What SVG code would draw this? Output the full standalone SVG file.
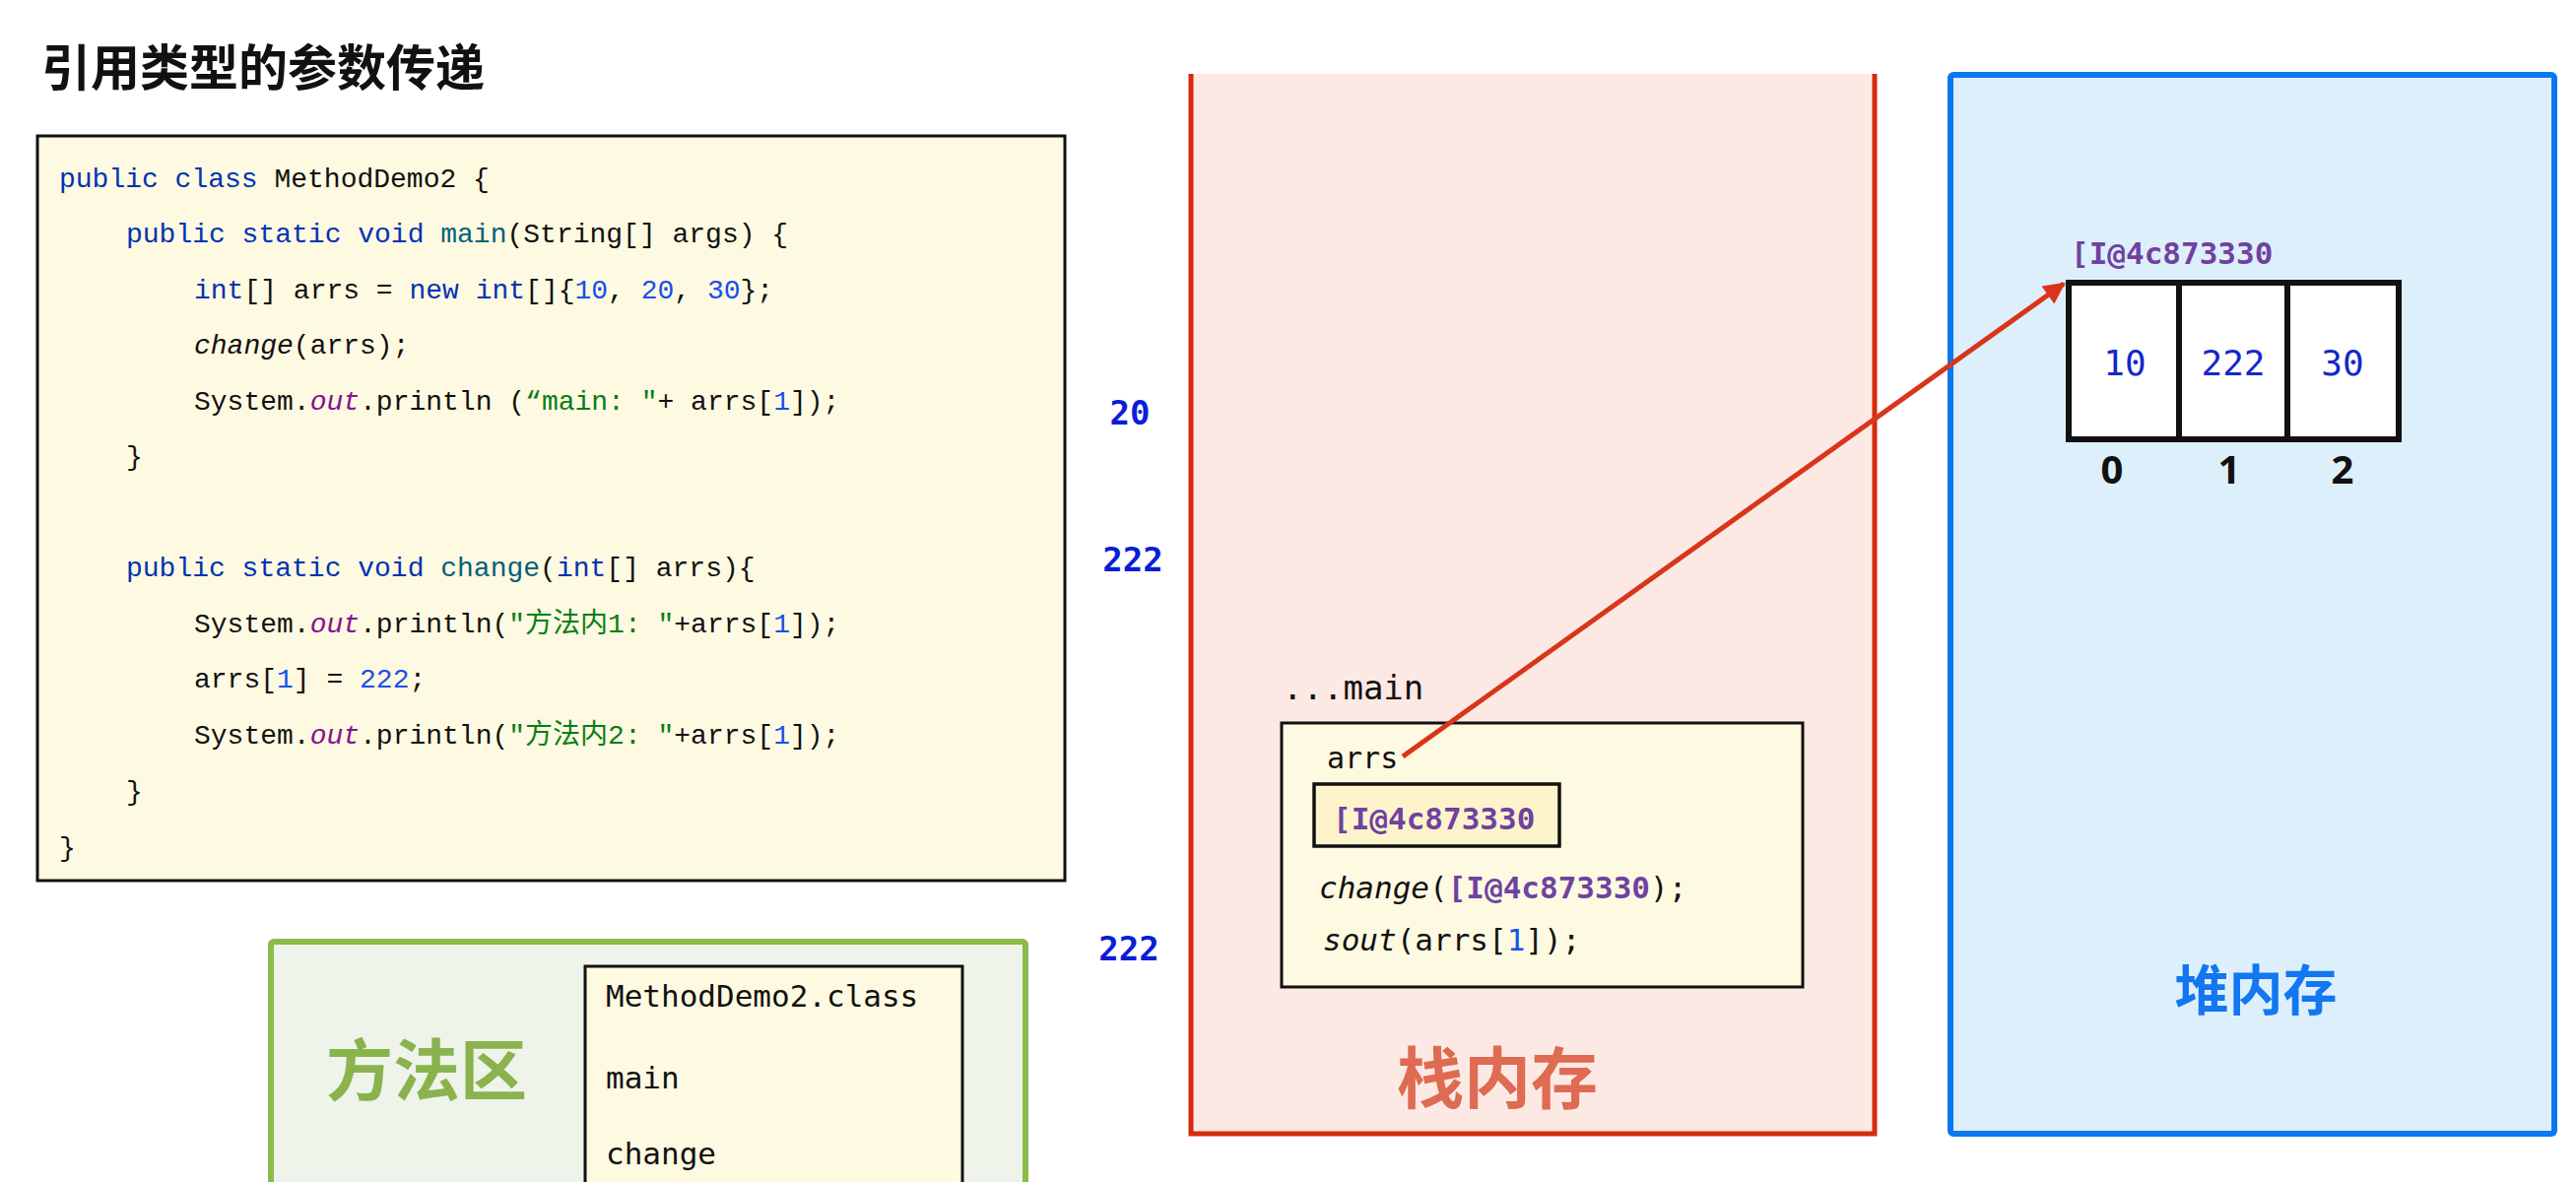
<svg xmlns="http://www.w3.org/2000/svg" width="2615" height="1200" viewBox="0 0 2615 1200">
<style>
.code{font-family:"Liberation Mono","Noto Sans CJK SC",monospace;font-size:28px;fill:#111}
.kw{fill:#0033B3}
.fn{fill:#00627A}
.num{fill:#1750EB}
.fld{fill:#871094;font-style:italic}
.str{fill:#067D17}
.it{font-style:italic}
.mono{font-family:"DejaVu Sans Mono","Liberation Mono",monospace;fill:#111}
.addr{fill:#6F42A0;font-weight:bold}
.val{font-family:"DejaVu Sans Mono","Liberation Mono",monospace;font-size:36px;fill:#1428C8;text-anchor:middle}
.idx{font-family:"Noto Sans",sans-serif;font-weight:bold;font-size:40px;fill:#111;text-anchor:middle}
.lbl{font-family:"DejaVu Sans Mono","Liberation Mono",monospace;font-weight:bold;font-size:34px;fill:#0A1ED6;text-anchor:middle}
.cjk{font-family:"Noto Sans CJK SC","Noto Sans",sans-serif;font-weight:bold;text-anchor:middle}
.box{stroke:#111;stroke-width:3}
</style>
<defs>
<marker id="ah" viewBox="0 0 10 10" refX="9" refY="5" markerWidth="28" markerHeight="22" markerUnits="userSpaceOnUse" orient="auto"><path d="M0,0 L10,5 L0,10 z" fill="#D8351A"/></marker>
</defs>
<rect width="2615" height="1200" fill="#ffffff"/>
<g id="title"><text x="42" y="87" font-family="Noto Sans CJK SC, sans-serif" font-weight="bold" font-size="50" fill="#111">引用类型的参数传递</text></g>
<g id="code">
<rect x="38" y="138" width="1043" height="756" fill="#FEF9E1" class="box"/>
<text class="code" x="60" y="190" xml:space="preserve"><tspan class="kw">public class</tspan> MethodDemo2 {</text>
<text class="code" x="128" y="246" xml:space="preserve"><tspan class="kw">public static void</tspan> <tspan class="fn">main</tspan>(String[] args) {</text>
<text class="code" x="197" y="303" xml:space="preserve"><tspan class="kw">int</tspan>[] arrs = <tspan class="kw">new int</tspan>[]{<tspan class="num">10</tspan>, <tspan class="num">20</tspan>, <tspan class="num">30</tspan>};</text>
<text class="code" x="197" y="359" xml:space="preserve"><tspan class="it">change</tspan>(arrs);</text>
<text class="code" x="197" y="416" xml:space="preserve">System.<tspan class="fld">out</tspan>.println (<tspan class="str">“main: "</tspan>+ arrs[<tspan class="num">1</tspan>]);</text>
<text class="code" x="128" y="472">}</text>
<text class="code" x="128" y="585" xml:space="preserve"><tspan class="kw">public static void</tspan> <tspan class="fn">change</tspan>(<tspan class="kw">int</tspan>[] arrs){</text>
<text class="code" x="197" y="642" xml:space="preserve">System.<tspan class="fld">out</tspan>.println(<tspan class="str">"方法内1: "</tspan>+arrs[<tspan class="num">1</tspan>]);</text>
<text class="code" x="197" y="698" xml:space="preserve">arrs[<tspan class="num">1</tspan>] = <tspan class="num">222</tspan>;</text>
<text class="code" x="197" y="755" xml:space="preserve">System.<tspan class="fld">out</tspan>.println(<tspan class="str">"方法内2: "</tspan>+arrs[<tspan class="num">1</tspan>]);</text>
<text class="code" x="128" y="812">}</text>
<text class="code" x="60" y="869">}</text>
</g>
<g id="method-area">
<rect x="275" y="956" width="766" height="300" fill="#EEF4E9" stroke="#8CBB4A" stroke-width="6" rx="3"/>
<text class="cjk" x="433" y="1112" font-size="68" fill="#8AB34E">方法区</text>
<rect x="594" y="981" width="383" height="260" fill="#FEF9E1" class="box"/>
<text class="mono" x="615" y="1022" font-size="31">MethodDemo2.class</text>
<text class="mono" x="615" y="1105" font-size="31">main</text>
<text class="mono" x="615" y="1182" font-size="31">change</text>
</g>
<g id="outputs">
<text class="lbl" x="1147" y="431">20</text>
<text class="lbl" x="1150" y="580">222</text>
<text class="lbl" x="1146" y="975">222</text>
</g>
<g id="stack">
<rect x="1209" y="75" width="694" height="1076" fill="#FDE9E4"/>
<path d="M1209,75 V1151 H1903 V75" fill="none" stroke="#D62B0C" stroke-width="5"/>
<text class="cjk" x="1520" y="1120" font-size="68" fill="#DE6B52">栈内存</text>
</g>
<g id="main-frame">
<text class="mono" x="1302" y="710" font-size="34">...main</text>
<rect x="1301" y="734" width="529" height="268" fill="#FEF9E1" class="box"/>
<text class="mono" x="1347" y="780" font-size="30">arrs</text>
<rect x="1334" y="796" width="249" height="63" fill="#FEF4CC" stroke="#111" stroke-width="3.5"/>
<text class="mono addr" x="1353" y="842" font-size="31">[I@4c873330</text>
<text class="mono" x="1339" y="912" font-size="31" xml:space="preserve"><tspan font-style="italic">change</tspan>(<tspan class="addr">[I@4c873330</tspan>);</text>
<text class="mono" x="1343" y="965" font-size="31" xml:space="preserve"><tspan font-style="italic">sout</tspan>(arrs[<tspan class="num">1</tspan>]);</text>
</g>
<g id="heap">
<rect x="1980" y="76" width="613" height="1075" fill="#DEEFFC" stroke="#0A78F0" stroke-width="6" rx="3"/>
<text class="cjk" x="2290" y="1025" font-size="55" fill="#1277F0">堆内存</text>
</g>
<g id="array">
<text class="mono addr" x="2102" y="268" font-size="31">[I@4c873330</text>
<rect x="2100" y="287" width="335" height="159" fill="#ffffff" stroke="#111" stroke-width="6"/>
<path d="M2212,287 V446 M2322,287 V446" stroke="#111" stroke-width="6"/>
<text class="val" x="2157" y="381">10</text>
<text class="val" x="2267" y="381">222</text>
<text class="val" x="2378" y="381">30</text>
<text class="idx" x="2144" y="491">0</text>
<text class="idx" x="2263" y="491">1</text>
<text class="idx" x="2378" y="491">2</text>
</g>
<g id="connectors">
<line x1="1424" y1="768" x2="2095" y2="288" stroke="#D8351A" stroke-width="5" marker-end="url(#ah)"/>
</g>
</svg>
